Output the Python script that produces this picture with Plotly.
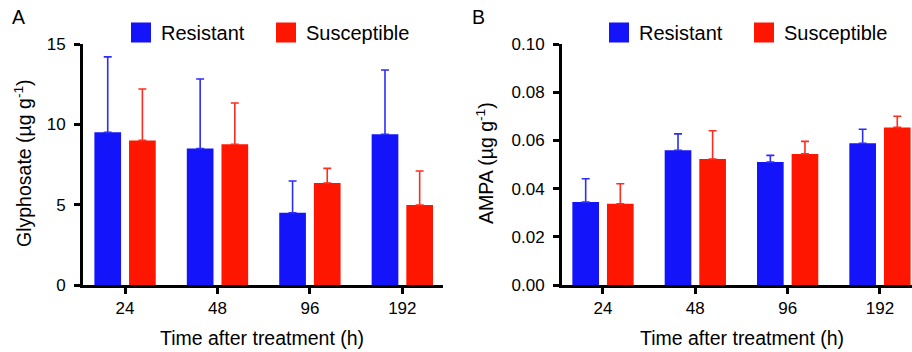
import plotly.graph_objects as go

# ---- data ----
times = ["24", "48", "96", "192"]
series_names = ["Resistant", "Susceptible"]

gly_resistant = [9.5, 8.5, 4.5, 9.38]
gly_resistant_sd = [4.7, 4.32, 1.97, 4.0]
gly_susceptible = [9.0, 8.76, 6.35, 4.98]
gly_susceptible_sd = [3.2, 2.57, 0.91, 2.12]

ampa_resistant = [0.0344, 0.0559, 0.0510, 0.0588]
ampa_resistant_sd = [0.0097, 0.0068, 0.0028, 0.0058]
ampa_susceptible = [0.0337, 0.0523, 0.0544, 0.0654]
ampa_susceptible_sd = [0.0083, 0.0117, 0.0052, 0.0046]

gly_ticks = [0, 5, 10, 15]
ampa_ticks = [0, 0.02, 0.04, 0.06, 0.08, 0.10]

# ---- style ----
BLUE = "rgb(20,20,250)"
RED = "rgb(255,22,0)"
BLUE_ERR = "rgb(45,45,250)"
RED_ERR = "rgb(255,45,30)"
FONT = "Liberation Sans, Arial, sans-serif"
W, H = 912, 352


def px_x(p):
    return p / W


def px_y(p):
    return 1 - p / H


fig = go.Figure()


def add_bars(xa, ya, vals, sds, color, ecolor):
    fig.add_trace(go.Bar(
        x=times, y=vals, xaxis=xa, yaxis=ya, showlegend=False,
        marker=dict(color=color, line=dict(width=0)),
        error_y=dict(type="data", array=sds, arrayminus=[0] * len(sds),
                     symmetric=False, color=ecolor, thickness=1.6, width=4),
    ))


add_bars("x", "y", gly_resistant, gly_resistant_sd, BLUE, BLUE_ERR)
add_bars("x", "y", gly_susceptible, gly_susceptible_sd, RED, RED_ERR)
add_bars("x2", "y2", ampa_resistant, ampa_resistant_sd, BLUE, BLUE_ERR)
add_bars("x2", "y2", ampa_susceptible, ampa_susceptible_sd, RED, RED_ERR)

# legend-only entries (larger square keys)
for leg, xa, ya in [("legend", "x", "y"), ("legend2", "x2", "y2")]:
    for name, col in zip(series_names, [BLUE, RED]):
        fig.add_trace(go.Scatter(
            x=[None], y=[None], xaxis=xa, yaxis=ya, mode="markers", name=name,
            legend=leg, showlegend=True,
            marker=dict(symbol="square", size=16, color=col,
                        line=dict(color=col, width=4)),
        ))

axis_common = dict(
    showgrid=False, zeroline=False, showline=True, linecolor="black",
    linewidth=3, ticks="outside", tickwidth=3, ticklen=6, tickcolor="black",
    automargin=False,
    tickfont=dict(family=FONT, size=17, color="black"),
)

legend_common = dict(
    orientation="h", xanchor="left", yanchor="top",
    font=dict(family=FONT, size=20, color="black"),
    entrywidth=100, entrywidthmode="pixels", itemsizing="trace",
    bgcolor="rgba(0,0,0,0)", borderwidth=0,
)

fig.update_layout(
    template="none",
    width=W, height=H,
    margin=dict(l=0, r=0, t=0, b=0, pad=0, autoexpand=False),
    paper_bgcolor="white", plot_bgcolor="white",
    barmode="group", bargap=0.25, bargroupgap=0.23,
    font=dict(family=FONT, color="black"),
    xaxis=dict(domain=[px_x(83), px_x(443)], anchor="y", type="category",
               range=[-0.455, 3.44], **axis_common),
    yaxis=dict(domain=[px_y(285), px_y(44)], anchor="x", range=[0, 15],
               tickvals=gly_ticks, ticklabelstandoff=5, **axis_common),
    xaxis2=dict(domain=[px_x(562), 1.0], anchor="y2", type="category",
                range=[-0.444, 3.347], **axis_common),
    yaxis2=dict(domain=[px_y(285), px_y(44)], anchor="x2", range=[0, 0.1],
                tickvals=ampa_ticks, tickformat=".2f", ticklabelstandoff=5,
                **axis_common),
    legend=dict(x=px_x(121), y=px_y(13), **legend_common),
    legend2=dict(x=px_x(599), y=px_y(13), **legend_common),
)

title_font = dict(family=FONT, size=19.5, color="black")
annotations = [
    dict(text="A", x=px_x(18), y=px_y(17)),
    dict(text="B", x=px_x(478), y=px_y(17)),
    dict(text="Time after treatment (h)", x=px_x(262), y=px_y(338)),
    dict(text="Time after treatment (h)", x=px_x(742), y=px_y(338)),
    dict(text="Glyphosate (µg g<sup>-1</sup>)", x=px_x(23), y=px_y(163), textangle=-90),
    dict(text="AMPA (µg g<sup>-1</sup>)", x=px_x(485), y=px_y(163), textangle=-90),
]
for a in annotations:
    fig.add_annotation(xref="paper", yref="paper", showarrow=False,
                       xanchor="center", yanchor="middle", font=title_font, **a)

fig.write_html(
    "out.html",
    config={"displayModeBar": False},
    post_script="document.body.style.margin='0';document.body.style.padding='0';",
)
